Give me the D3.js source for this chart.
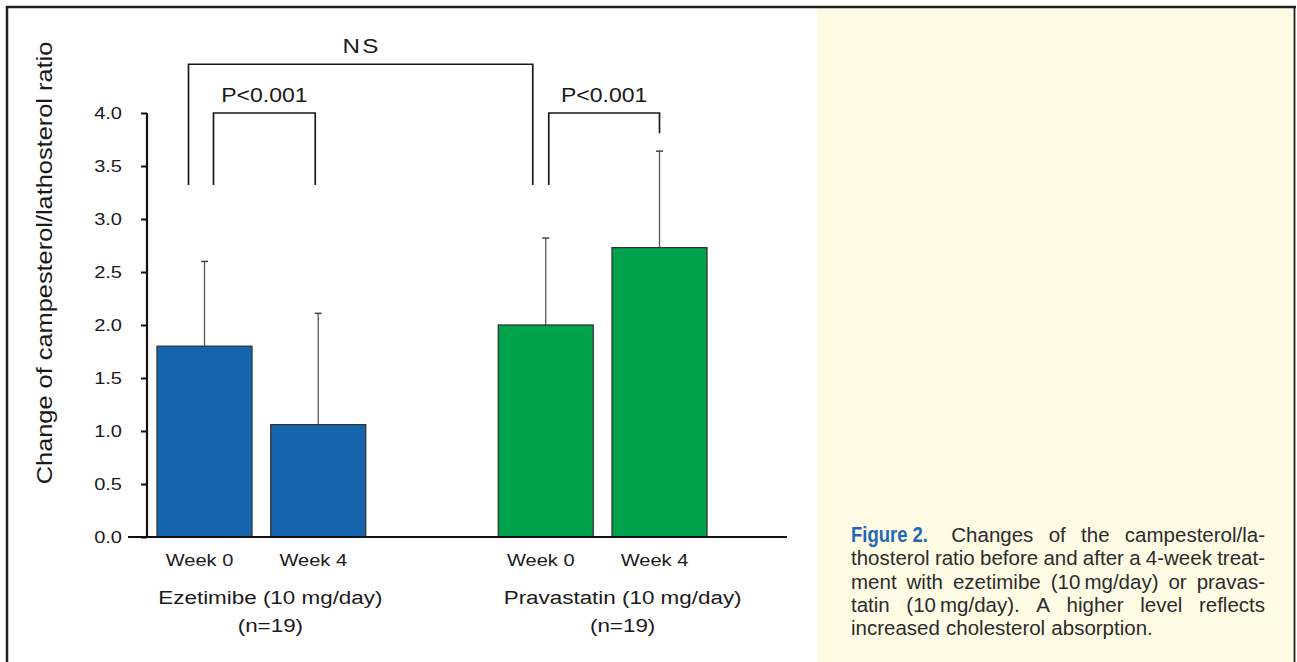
<!DOCTYPE html>
<html>
<head>
<meta charset="utf-8">
<script src="https://cdn.jsdelivr.net/npm/d3@7"></script>
<style>
  html, body { margin: 0; padding: 0; background: #ffffff; }
  svg { display: block; }
</style>
</head>
<body>
<svg id="chart" width="1297" height="662"></svg>
<script>
// ---------------- DATA ----------------
const barKeys     = ["ez-w0", "ez-w4", "pr-w0", "pr-w4"];
const weekLabels  = ["Week 0", "Week 4", "Week 0", "Week 4"];
const barGroup    = [0, 0, 1, 1];
const means       = [1.80, 1.06, 2.00, 2.73];
const sds         = [0.80, 1.05, 0.82, 0.91];
const groupNames  = ["Ezetimibe (10 mg/day)", "Pravastatin (10 mg/day)"];
const groupNs     = ["(n=19)", "(n=19)"];
const groupColors = ["#1565AE", "#00A24B"];
const yTicks      = [0, 0.5, 1.0, 1.5, 2.0, 2.5, 3.0, 3.5, 4.0];
const yTitle      = "Change of campesterol/lathosterol ratio";
const bracketFrom   = ["ez-w0", "ez-w0", "pr-w0"];
const bracketTo     = ["pr-w0", "ez-w4", "pr-w4"];
const bracketLabels = ["NS", "P<0.001", "P<0.001"];
const bracketLevel  = [4.46, 4.0, 4.0];
const bracketDropL  = [3.32, 3.32, 3.32];
const bracketDropR  = [3.32, 3.32, 3.81];
const captionLabel = "Figure 2.";
const captionLines = [
  "Changes of the campesterol/la-",
  "thosterol ratio before and after a 4-week treat-",
  "ment with ezetimibe (10\u2009mg/day) or pravas-",
  "tatin (10\u2009mg/day). A higher level reflects",
  "increased cholesterol absorption."
];

// ---------------- LAYOUT ----------------
const svg = d3.select("#chart");
const FONT = "'Liberation Sans', Arial, Helvetica, sans-serif";
const SX = 1.18; // horizontal widening of the chart font

// frame and caption panel
svg.append("rect").attr("x", 817).attr("y", 8).attr("width", 477).attr("height", 660).attr("fill", "#FFFBE5");
svg.append("line").attr("x1", 6).attr("x2", 1296).attr("y1", 7).attr("y2", 7).attr("stroke", "#222").attr("stroke-width", 2.5);
svg.append("line").attr("x1", 7).attr("x2", 7).attr("y1", 6).attr("y2", 662).attr("stroke", "#222").attr("stroke-width", 2.5);
svg.append("line").attr("x1", 1294.5).attr("x2", 1294.5).attr("y1", 6).attr("y2", 662).attr("stroke", "#222").attr("stroke-width", 1.8);

const x = d3.scaleBand()
  .domain(["ez-w0", "ez-w4", "gap", "pr-w0", "pr-w4"])
  .range([147, 717])
  .paddingInner(0.165)
  .paddingOuter(0.088);
const y = d3.scaleLinear().domain([0, 4]).range([537, 113]);
const cx = k => x(k) + x.bandwidth() / 2;

const g = svg.append("g");

function stretchedText(sel, tx, ty, str, size, anchor, rot) {
  return sel.append("text")
    .attr("transform", `translate(${tx},${ty})` + (rot ? ` rotate(${rot})` : "") + ` scale(${SX},1)`)
    .attr("text-anchor", anchor)
    .attr("font-family", FONT)
    .attr("font-size", size)
    .attr("fill", "#1a1a1a")
    .text(str);
}

// bars
const bars = barKeys.map((k, i) => ({ key: k, mean: means[i], sd: sds[i], group: barGroup[i], week: weekLabels[i] }));

// error bars
g.selectAll(".err").data(bars).join("line")
  .attr("x1", d => cx(d.key)).attr("x2", d => cx(d.key))
  .attr("y1", d => y(d.mean)).attr("y2", d => y(d.mean + d.sd))
  .attr("stroke", "#555").attr("stroke-width", 1.3);
g.selectAll(".cap").data(bars).join("line")
  .attr("x1", d => cx(d.key) - 3.5).attr("x2", d => cx(d.key) + 3.5)
  .attr("y1", d => y(d.mean + d.sd)).attr("y2", d => y(d.mean + d.sd))
  .attr("stroke", "#444").attr("stroke-width", 1.5);

g.selectAll(".bar").data(bars).join("rect")
  .attr("x", d => x(d.key))
  .attr("width", x.bandwidth())
  .attr("y", d => y(d.mean))
  .attr("height", d => y(0) - y(d.mean))
  .attr("fill", d => groupColors[d.group])
  .attr("stroke", "#333").attr("stroke-width", 1.3);

// y axis
const yAxis = d3.axisLeft(y).tickValues(yTicks).tickSize(6).tickPadding(0).tickFormat("");
const ya = g.append("g").attr("transform", "translate(147,0)").call(yAxis);
ya.select(".domain").attr("stroke", "#111").attr("stroke-width", 2.2).attr("d", `M0,${y(4)}V${y(0)}`);
ya.selectAll(".tick line").attr("stroke", "#111").attr("stroke-width", 2);
yTicks.forEach(t => {
  stretchedText(g, 122, y(t) + 6, d3.format(".1f")(t), 17, "end");
});
// x axis baseline
g.append("line").attr("x1", 128).attr("x2", 787).attr("y1", y(0)).attr("y2", y(0))
  .attr("stroke", "#111").attr("stroke-width", 2.2);

// x labels
bars.forEach(d => {
  stretchedText(g, cx(d.key) - 5, 566, d.week, 17, "middle");
});
const groupOffset = [9, 20];
groupNames.forEach((name, gi) => {
  const keys = barKeys.filter((k, i) => barGroup[i] === gi);
  const mid = d3.mean(keys, cx) + groupOffset[gi];
  stretchedText(g, mid, 604, name, 19, "middle");
  stretchedText(g, mid, 632, groupNs[gi], 19, "middle");
});

// y title
stretchedText(g, 52, 263, yTitle, 21.5, "middle", -90);

// significance brackets
const bracketDx = [[-16, -13], [9, -3], [3, 0]];
const bracketSize = [20.5, 19.5, 19.5];
bracketLabels.forEach((lab, i) => {
  const x1 = cx(bracketFrom[i]) + bracketDx[i][0];
  const x2 = cx(bracketTo[i]) + bracketDx[i][1];
  const yl = y(bracketLevel[i]);
  g.append("path")
    .attr("d", `M${x1},${y(bracketDropL[i])}V${yl}H${x2}V${y(bracketDropR[i])}`)
    .attr("fill", "none").attr("stroke", "#1a1a1a").attr("stroke-width", 1.7);
  const t = stretchedText(g, (x1 + x2) / 2 + (i === 0 ? 1 : 0), yl - 11, lab, bracketSize[i], "middle");
  if (i === 0) t.attr("letter-spacing", 2);
});

// ---------------- CAPTION ----------------
const cap = svg.append("g");
const capLeft = 851, capRight = 1265, capBase = 542, capLH = 23.3, capSize = 20.5;
const capFont = "'Liberation Sans', Arial, Helvetica, sans-serif";

function measure(str, opts) {
  const t = cap.append("text").attr("font-family", opts.family).attr("font-size", opts.size)
    .attr("font-weight", opts.weight || "normal").text(str);
  const w = t.node().getComputedTextLength();
  t.remove();
  return w;
}

captionLines.forEach((line, li) => {
  const words = line.split(" ");
  const baseY = capBase + li * capLH;
  let items = [];
  let extraFirstGap = 0;
  if (li === 0) {
    items.push({ text: captionLabel, w: 77, label: true });
    extraFirstGap = 8;
  }
  words.forEach(w => items.push({ text: w, w: measure(w, { family: capFont, size: capSize }) }));
  const last = li === captionLines.length - 1;
  const total = d3.sum(items, d => d.w);
  const nGaps = items.length - 1;
  const gap = last ? 0.3 * capSize
                   : (capRight - capLeft - total - extraFirstGap) / nGaps;
  let xpos = capLeft;
  items.forEach((it, i) => {
    const t = cap.append("text")
      .attr("x", xpos).attr("y", baseY)
      .attr("font-size", it.label ? 21.5 : capSize)
      .attr("fill", it.label ? "#1F69B3" : "#2b2b2b")
      .text(it.text);
    if (it.label) {
      t.attr("font-family", "'Liberation Sans Narrow', 'Liberation Sans', Arial, sans-serif")
        .attr("font-weight", "bold")
        .attr("textLength", it.w).attr("lengthAdjust", "spacingAndGlyphs");
    } else {
      t.attr("font-family", capFont);
    }
    xpos += it.w + gap + (i === 0 ? extraFirstGap : 0);
  });
});
</script>
</body>
</html>
